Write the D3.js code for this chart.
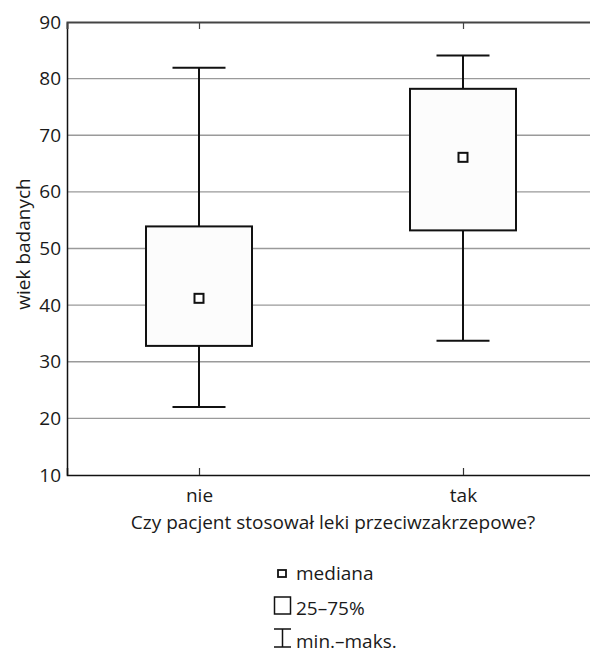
<!DOCTYPE html>
<html><head><meta charset="utf-8">
<script src="https://cdn.jsdelivr.net/npm/d3@7"></script>
<style>body{margin:0;background:#fff}svg{display:block}text{font-family:"Open Sans",sans-serif;fill:#1a1a1a}</style>
</head><body><div id="c"></div>
<script>
const categories = ["nie", "tak"];
const minVals = [22, 33.7];
const q1Vals = [32.8, 53.2];
const medianVals = [41.2, 66.1];
const q3Vals = [53.9, 78.2];
const maxVals = [81.9, 84.1];
const yTicks = [10, 20, 30, 40, 50, 60, 70, 80, 90];
const yTitle = "wiek badanych";
const xTitle = "Czy pacjent stosował leki przeciwzakrzepowe?";
const legendLabels = ["mediana", "25–75%", "min.–maks."];

const W = 590, H = 659;
const m = {left: 67, top: 22, right: 595, bottom: 475};
const svg = d3.select("#c").append("svg").attr("width", W).attr("height", H);
const x = d3.scalePoint().domain(categories).range([m.left, m.right]).padding(0.5);
const y = d3.scaleLinear().domain([10, 90]).range([m.bottom, m.top]);
const FS = 19;

// grid
svg.append("g").selectAll("line").data(yTicks.filter(t => t > 10 && t < 90)).join("line")
  .attr("x1", m.left).attr("x2", m.right).attr("y1", d => y(d)).attr("y2", d => y(d))
  .attr("stroke", "#9a9a9a").attr("stroke-width", 1.3);

// y axis
const ya = svg.append("g").attr("transform", `translate(${m.left},0)`)
  .call(d3.axisLeft(y).tickValues(yTicks).tickSize(0).tickPadding(6));
ya.select(".domain").attr("stroke", "#111").attr("stroke-width", 1.5);
ya.selectAll("text").style("font-size", FS + "px").attr("fill", "#1a1a1a").attr("font-family", null);

// x axis bottom
const xa = svg.append("g").attr("transform", `translate(0,${m.bottom})`)
  .call(d3.axisBottom(x).tickSize(-7).tickPadding(14));
xa.select(".domain").attr("stroke", "#111").attr("stroke-width", 1.5);
xa.selectAll(".tick line").attr("stroke", "#333").attr("stroke-width", 1.2);
xa.selectAll("text").style("font-size", FS + "px").attr("fill", "#1a1a1a").attr("font-family", null);

// top border with inward ticks
const xt = svg.append("g").attr("transform", `translate(0,${m.top})`)
  .call(d3.axisTop(x).tickSize(-7).tickFormat(""));
xt.select(".domain").attr("stroke", "#444").attr("stroke-width", 2);
xt.selectAll(".tick line").attr("stroke", "#444").attr("stroke-width", 1.2);

// titles
svg.append("text").attr("x", 333).attr("y", 529).attr("text-anchor", "middle")
  .style("font-size", FS + "px").text(xTitle);
svg.append("text").attr("transform", `translate(30,244) rotate(-90)`)
  .attr("text-anchor", "middle").style("font-size", FS + "px").text(yTitle);

// boxes
const data = categories.map((c, i) => ({c, min: minVals[i], q1: q1Vals[i], med: medianVals[i], q3: q3Vals[i], max: maxVals[i]}));
const bw = 106, cw = 53;
const g = svg.append("g").selectAll("g").data(data).join("g");
g.append("line").attr("x1", d => x(d.c)).attr("x2", d => x(d.c))
  .attr("y1", d => y(d.max)).attr("y2", d => y(d.min)).attr("stroke", "#111").attr("stroke-width", 2);
g.append("line").attr("x1", d => x(d.c) - cw / 2).attr("x2", d => x(d.c) + cw / 2)
  .attr("y1", d => y(d.max)).attr("y2", d => y(d.max)).attr("stroke", "#111").attr("stroke-width", 2);
g.append("line").attr("x1", d => x(d.c) - cw / 2).attr("x2", d => x(d.c) + cw / 2)
  .attr("y1", d => y(d.min)).attr("y2", d => y(d.min)).attr("stroke", "#111").attr("stroke-width", 2);
g.append("rect").attr("x", d => x(d.c) - bw / 2).attr("width", bw)
  .attr("y", d => y(d.q3)).attr("height", d => y(d.q1) - y(d.q3))
  .attr("fill", "#fcfcfc").attr("stroke", "#111").attr("stroke-width", 2);
g.append("rect").attr("x", d => x(d.c) - 4.5).attr("width", 9)
  .attr("y", d => y(d.med) - 4.5).attr("height", 9)
  .attr("fill", "#fff").attr("stroke", "#111").attr("stroke-width", 2);

// legend
const lg = svg.append("g");
lg.append("rect").attr("x", 278).attr("y", 570).attr("width", 8).attr("height", 7)
  .attr("fill", "#fff").attr("stroke", "#111").attr("stroke-width", 1.8);
lg.append("rect").attr("x", 274.5).attr("y", 597).attr("width", 16).attr("height", 17)
  .attr("fill", "#fff").attr("stroke", "#111").attr("stroke-width", 1.5);
lg.append("path").attr("d", "M274,629H291M282.5,629V647M274,647H291")
  .attr("fill", "none").attr("stroke", "#111").attr("stroke-width", 1.5);
lg.selectAll("text").data(legendLabels).join("text")
  .attr("x", 296).attr("y", (d, i) => [580, 615, 648][i])
  .style("font-size", FS + "px").text(d => d);
</script></body></html>
